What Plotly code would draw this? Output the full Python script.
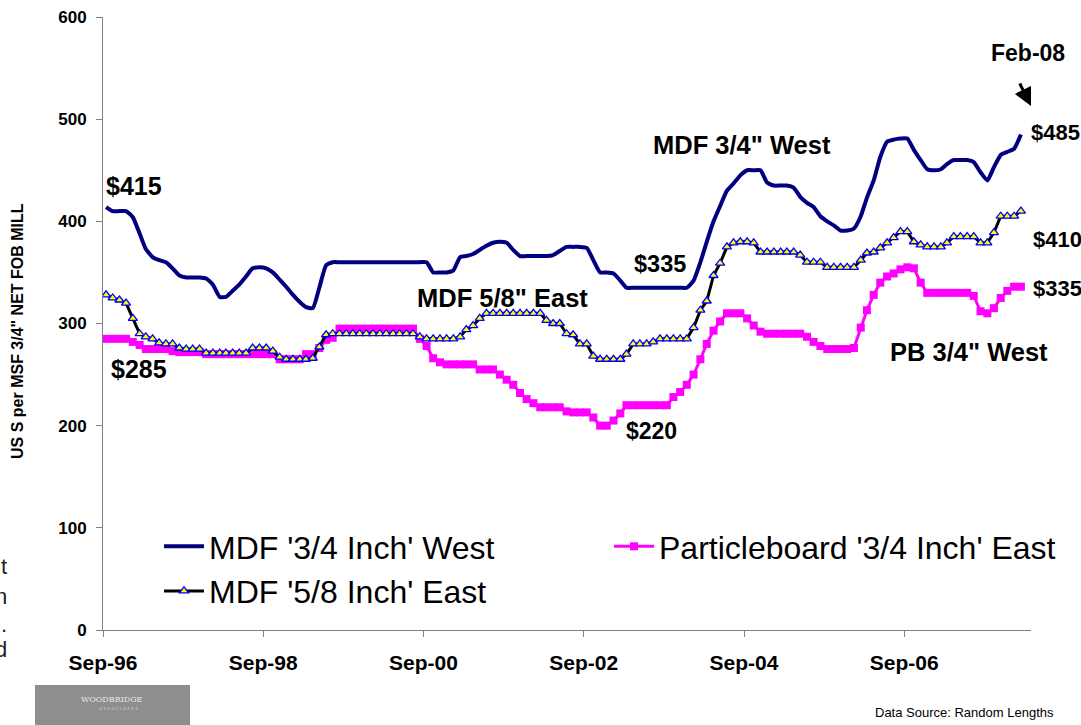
import plotly.graph_objects as go
import pandas as pd

# ---------------- data (monthly, Sep-96 .. Feb-08) ----------------
first_month = "1996-09-01"
n_months = 138

mdf_west_34 = [
    414, 410, 410, 410, 404, 388, 373, 365, 362, 360,
    354, 347, 345, 345, 345, 344, 338, 326, 326, 332,
    338, 346, 354, 355, 354, 350, 343, 336, 328, 321,
    316, 315, 335, 357, 360, 360, 360, 360, 360, 360,
    360, 360, 360, 360, 360, 360, 360, 360, 360, 350,
    350, 350, 352, 365, 366, 368, 372, 376, 379, 380,
    379, 372, 366, 366, 366, 366, 366, 367, 371, 375,
    375, 375, 374, 362, 350, 350, 349, 342, 335, 335,
    335, 335, 335, 335, 335, 335, 335, 335, 342, 360,
    380, 400, 415, 430, 437, 445, 450, 450, 450, 438,
    435, 435, 435, 433, 424, 418, 414, 405, 400, 396,
    391, 391, 393, 405, 423, 440, 463, 478, 480, 481,
    481, 470, 460, 451, 450, 451, 456, 460, 460, 460,
    458, 448, 440, 453, 465, 468, 471, 485,
]

mdf_east_58 = [
    328, 325, 323, 320, 305, 290, 287, 285, 281, 280,
    280, 276, 275, 275, 275, 271, 271, 271, 271, 271,
    271, 271, 276, 276, 276, 273, 267, 265, 265, 265,
    265, 266, 277, 289, 290, 290, 290, 290, 290, 290,
    290, 290, 290, 290, 290, 290, 290, 287, 285, 285,
    285, 285, 285, 287, 294, 298, 305, 310, 310, 310,
    310, 310, 310, 310, 310, 310, 303, 300, 300, 290,
    289, 280, 280, 268, 265, 265, 265, 265, 270, 280,
    280, 280, 282, 285, 285, 285, 285, 285, 296, 313,
    322, 347, 359, 375, 379, 380, 380, 379, 370, 370,
    370, 370, 370, 370, 367, 360, 360, 360, 355, 355,
    355, 355, 355, 362, 369, 370, 374, 379, 384, 390,
    390, 380, 377, 375, 375, 375, 379, 385, 385, 385,
    385, 379, 379, 389, 405, 405, 405, 410,
]

pb_east_34 = [
    285, 285, 285, 285, 282, 279, 275, 275, 275, 275,
    273, 272, 272, 272, 272, 270, 270, 270, 270, 270,
    270, 270, 270, 270, 270, 270, 265, 265, 265, 265,
    270, 270, 276, 284, 286, 295, 295, 295, 295, 295,
    295, 295, 295, 295, 295, 295, 295, 285, 278, 266,
    262, 260, 260, 260, 260, 260, 255, 255, 255, 250,
    245, 240, 232, 226, 222, 218, 218, 218, 218, 214,
    213, 213, 213, 208, 200, 200, 205, 212, 220, 220,
    220, 220, 220, 220, 220, 228, 233, 240, 250, 265,
    280, 293, 302, 310, 310, 310, 305, 298, 292, 290,
    290, 290, 290, 290, 290, 287, 282, 278, 275, 275,
    275, 275, 276, 296, 313, 328, 340, 346, 349, 353,
    355, 354, 340, 330, 330, 330, 330, 330, 330, 330,
    327, 312, 310, 315, 325, 332, 336, 336,
]

series_names = ["MDF '3/4 Inch' West", "Particleboard '3/4 Inch' East", "MDF '5/8 Inch' East"]
tick_dates = ["1996-09-01", "1998-09-01", "2000-09-01", "2002-09-01", "2004-09-01", "2006-09-01"]
tick_text = ["Sep-96", "Sep-98", "Sep-00", "Sep-02", "Sep-04", "Sep-06"]
y_ticks = [0, 100, 200, 300, 400, 500, 600]

# monthly observations plotted mid-month
dates = pd.date_range(first_month, periods=n_months, freq="MS") + pd.Timedelta(days=14)

FONT = "Arial, Liberation Sans, sans-serif"

fig = go.Figure()
fig.add_trace(go.Scatter(
    x=dates, y=mdf_west_34, name=series_names[0], mode="lines",
    line=dict(color="#000080", width=4, shape="spline", smoothing=0.5),
    legend="legend",
))
fig.add_trace(go.Scatter(
    x=dates, y=pb_east_34, name=series_names[1], mode="lines+markers",
    line=dict(color="#FF00FF", width=3),
    marker=dict(symbol="square", size=8, color="#FF00FF", line=dict(width=0)),
    legend="legend2",
))
fig.add_trace(go.Scatter(
    x=dates, y=mdf_east_58, name=series_names[2], mode="lines+markers",
    line=dict(color="#000000", width=3),
    marker=dict(symbol="triangle-up", size=8, color="#FFFF00",
                line=dict(color="#0000FF", width=1.3)),
    legend="legend",
))

# ---------------- layout helpers (pixel -> paper) ----------------
L, R, T, B = 103, 1031, 17, 630
def px(x):
    return (x - L) / (R - L)
def py(y):
    return (B - y) / (B - T)

annots = []
def label(text, x, y, size=23, xanchor="left", bold=True, color="#000000", family=FONT, angle=0):
    annots.append(dict(
        text=text, x=px(x), y=py(y), xref="paper", yref="paper",
        xanchor=xanchor, yanchor="middle", showarrow=False, textangle=angle,
        font=dict(size=size, color=color, family=family, weight="bold" if bold else "normal"),
    ))

label("$415", 104, 186, size=25)
label("$285", 109, 369, size=25)
label('MDF 5/8" East', 502, 298, size=25.5, xanchor="center")
label("$220", 624, 431, size=23)
label("$335", 632, 264, size=23.5)
label('MDF 3/4" West', 742, 145, size=25.5, xanchor="center")
label("Feb-08", 1028, 53, size=23, xanchor="center")
label("$485", 1029, 132, size=22)
label("$410", 1031, 240, size=22)
label("$335", 1031, 288, size=22)
label('PB 3/4" West', 969, 352, size=25.5, xanchor="center")
label('US S per MSF 3/4" NET FOB MILL', 17, 331, size=16, xanchor="center", angle=-90)
label("Data Source: Random Lengths", 873, 712, size=13, bold=False)

# clipped fragments at the left edge
for ch, yy in [("t", 566), ("n", 596), (".", 624), ("d", 650)]:
    annots.append(dict(text=ch, x=px(9), y=py(yy), xref="paper", yref="paper",
                       xanchor="right", yanchor="middle", showarrow=False,
                       font=dict(size=22, color="#222222", family=FONT)))

# arrow to Feb-08
annots.append(dict(text="", x=px(1031), y=py(106), xref="paper", yref="paper",
                   showarrow=True, ax=-12, ay=-24, arrowhead=2, arrowsize=1.2,
                   arrowwidth=3, arrowcolor="#000000"))

# logo text
annots.append(dict(text="WOODBRIDGE", x=px(112), y=py(699), xref="paper", yref="paper",
                   xanchor="center", yanchor="middle", showarrow=False,
                   font=dict(size=8, color="#e6e6e6", family="DejaVu Serif")))
annots.append(dict(text="A S S O C I A T E S", x=px(118), y=py(708), xref="paper", yref="paper",
                   xanchor="center", yanchor="middle", showarrow=False,
                   font=dict(size=4, color="#d0d0d0", family="DejaVu Serif")))

shapes = [dict(type="rect", xref="paper", yref="paper",
               x0=px(35), x1=px(190), y0=py(725), y1=py(685),
               fillcolor="#8e8e8e", line=dict(width=0), layer="below")]

legend_common = dict(
    orientation="v", xanchor="left", yanchor="top",
    font=dict(size=32, family=FONT, color="#000000"),
    itemwidth=40, bgcolor="rgba(0,0,0,0)", borderwidth=0,
)

fig.update_layout(
    width=1081, height=725,
    margin=dict(l=L, r=1081 - R, t=T, b=725 - B, autoexpand=False),
    paper_bgcolor="white", plot_bgcolor="white",
    font=dict(family=FONT, color="#000000"),
    showlegend=True,
    legend=dict(x=px(159), y=py(519), **legend_common),
    legend2=dict(x=px(609), y=py(519), **legend_common),
    annotations=annots,
    shapes=shapes,
    xaxis=dict(
        type="date", range=["1996-09-01", "2008-04-01"],
        tickvals=tick_dates, ticktext=tick_text,
        showgrid=False, zeroline=False,
        showline=True, linecolor="#808080", linewidth=1,
        ticks="outside", ticklen=6, tickcolor="#808080",
        ticklabelstandoff=8,
        tickfont=dict(size=21, family=FONT, weight="bold", color="#000000"),
    ),
    yaxis=dict(
        range=[0, 600], tickvals=y_ticks,
        showgrid=False, zeroline=False,
        showline=True, linecolor="#808080", linewidth=1,
        ticks="outside", ticklen=6, tickcolor="#808080",
        ticklabelstandoff=6,
        tickfont=dict(size=17, family=FONT, weight="bold", color="#000000"),
    ),
)

fig.write_html("out.html", config={"displayModeBar": False},
               post_script="document.body.style.margin='0px';")
